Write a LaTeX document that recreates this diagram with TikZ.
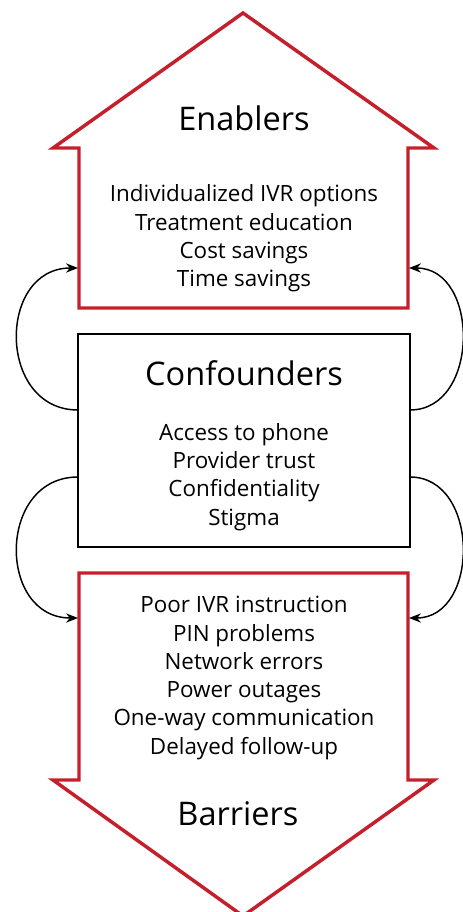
\documentclass[tikz,border=0pt]{standalone}
\usepackage{fontspec}
\setmainfont{Open Sans}
\usetikzlibrary{arrows.meta}
\tikzset{every picture/.style={line width=0.75pt}}
\definecolor{arrowred}{RGB}{196,32,44}
\tikzset{
  redarrow/.style={draw=arrowred, line width=2.6pt, line join=miter},
  confbox/.style={draw=black, line width=1.1pt, minimum width=249pt, minimum height=159.75pt, inner sep=0pt},
  headtext/.style={font=\fontsize{24.4}{29}\selectfont, inner sep=0.75pt},
  listtext/.style={font=\fontsize{16.8}{21.2}\selectfont, align=center, inner sep=0.75pt},
  looparc/.style={draw=black, line width=1.1pt, -{Stealth[length=9pt,width=7pt]}}
}

\begin{document}
\begin{tikzpicture}[x=0.75pt,y=0.75pt,yscale=-1,xscale=1]
\useasboundingbox (0,0) rectangle (463,912);

%Up arrow (enablers)
\draw [redarrow] (79,308) -- (79,148) -- (53,148) -- (243,13) -- (434,148) -- (408,148) -- (408,308) -- cycle ;
%Down arrow (barriers)
\draw [redarrow] (79,573) -- (408,573) -- (408,780) -- (434,780) -- (243,916) -- (53,780) -- (79,780) -- cycle ;

%Confounders box
\node [confbox] (conf) at (244,440.5) {};

% anchor points on the shapes
\coordinate (enbL) at (78,268);
\coordinate (enbR) at (409,268);
\coordinate (barL) at (78,618);
\coordinate (barR) at (409,618);
\coordinate (cfLt) at (78,410);
\coordinate (cfRt) at (410,410);
\coordinate (cfLb) at (78,477);
\coordinate (cfRb) at (410,477);

%Curved arrows
\draw [looparc] (cfLt) .. controls (-3,410) and (-3,268) .. (enbL) ;
\draw [looparc] (cfRt) .. controls (480,410) and (480,268) .. (enbR) ;
\draw [looparc] (cfLb) .. controls (-3,477) and (-3,618) .. (barL) ;
\draw [looparc] (cfRb) .. controls (480,477) and (480,618) .. (barR) ;

% Text Node
\node [headtext] (enbhead) at (244,118) {Enablers};
% Text Node
\node [listtext] (enblist) at (244,238.5) {Individualized IVR options\\Treatment education\\Cost savings\\Time savings};
% Text Node
\node [headtext] (confhead) at (244,373) {Confounders};
% Text Node
\node [listtext] (conflist) at (244,477) {Access to phone\\Provider trust\\Confidentiality\\Stigma};
% Text Node
\node [listtext] (barlist) at (244,678) {Poor IVR instruction\\PIN problems\\Network errors\\Power outages\\One-way communication\\Delayed follow-up};
% Text Node
\node [headtext] (barhead) at (238,814) {Barriers};

\end{tikzpicture}
\end{document}
